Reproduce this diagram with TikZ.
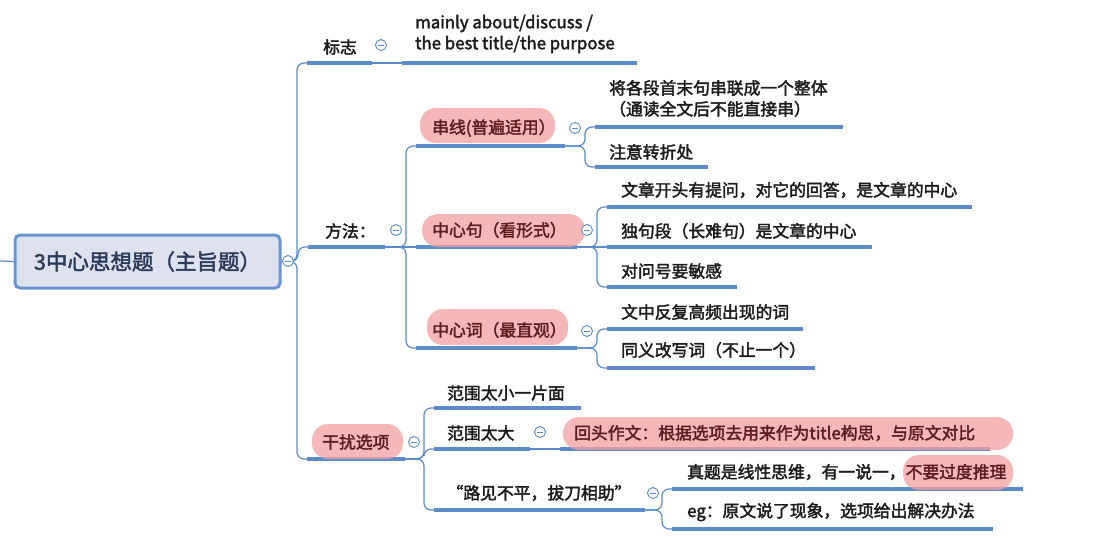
\documentclass[tikz,border=0pt]{standalone}
\usepackage{fontspec}
\setmainfont{Noto Sans CJK SC}[RawFeature={embolden=2.2}]
\usetikzlibrary{calc}
\definecolor{linec}{RGB}{91,139,201}
\definecolor{pillc}{RGB}{244,160,162}
\definecolor{pilltxt}{RGB}{94,30,30}
\definecolor{txtc}{RGB}{28,28,28}
\definecolor{rootfill}{RGB}{221,226,238}
\definecolor{rootdraw}{RGB}{104,148,208}
\definecolor{roottxt}{RGB}{45,59,91}
\newcommand\ULseg[4]{\coordinate (#1-l) at (#2,#4); \coordinate (#1-r) at (#3,#4);}
\begin{document}
\begin{tikzpicture}[x=1pt,y=-1pt,
 conn/.style={draw=linec, line width=1.2pt, rounded corners=7pt},
 uline/.style={draw=linec, line width=3.3pt},
 pill/.style={fill=pillc, fill opacity=0.75, rounded corners=16pt},
 txt/.style={font=\fontsize{16.8}{21}\selectfont, text=txtc, inner sep=0pt, anchor=west},
 ptxt/.style={txt, text=pilltxt},
 coll/.style={circle, draw=linec, fill=white, line width=0.9pt, minimum size=11pt, inner sep=0pt,
   path picture={\draw[linec, line width=0.9pt] ([xshift=-3pt]path picture bounding box.center) -- ([xshift=3pt]path picture bounding box.center);}},
 rootbox/.style={draw=rootdraw, fill=rootfill, line width=3pt, rounded corners=5pt,
   minimum width=265pt, minimum height=53pt, inner sep=0pt, text=roottxt,
   font=\fontsize{21.5}{25}\selectfont}]
\useasboundingbox (0,0) rectangle (1120,539);
\fill[white] (0,0) rectangle (1120,539);

% underline end points
\ULseg{bz}{307}{372}{63}
\ULseg{main}{402}{637}{63}
\ULseg{ff}{308}{385}{247}
\ULseg{cx}{416}{565}{146}
\ULseg{jg}{595}{843}{127}
\ULseg{zy}{595}{708}{167}
\ULseg{zxj}{416}{577}{247}
\ULseg{wz}{607}{972}{207}
\ULseg{dj}{607}{872}{247}
\ULseg{dw}{607}{737}{287}
\ULseg{zxc}{416}{577}{348}
\ULseg{wf}{607}{803}{329}
\ULseg{ty}{607}{815}{368}
\ULseg{gr}{307}{405}{459}
\ULseg{fx}{434}{581}{408}
\ULseg{fd}{434}{530}{449}
\ULseg{ht}{560}{990}{449}
\ULseg{lj}{434}{645}{510}
\ULseg{zt}{672}{1023}{489}
\ULseg{eg}{672}{993}{529}

% root
\coordinate (in) at (0,261);
\node[rootbox] (root) at (147.5,261.5) {3中心思想题（主旨题）};

% connectors
\draw[conn] (in) -- (root.west);
\foreach \c in {bz,ff,gr} \draw[conn] (root.east) -| ([xshift=-10pt]\c-l) -- (\c-l);
\draw[conn] (bz-r) -- (main-l);
\foreach \c in {cx,zxc} \draw[conn] (ff-r) -| ([xshift=-10pt]\c-l) -- (\c-l);
\draw[conn] (ff-r) -- (zxj-l);
\foreach \c in {jg,zy} \draw[conn] (cx-r) -| ([xshift=-10pt]\c-l) -- (\c-l);
\foreach \c in {wz,dw} \draw[conn] (zxj-r) -| ([xshift=-10pt]\c-l) -- (\c-l);
\draw[conn] (zxj-r) -- (dj-l);
\foreach \c in {wf,ty} \draw[conn] (zxc-r) -| ([xshift=-10pt]\c-l) -- (\c-l);
\foreach \c in {fx,fd,lj} \draw[conn] (gr-r) -| ([xshift=-10pt]\c-l) -- (\c-l);
\draw[conn] (fd-r) -- (ht-l);
\foreach \c in {zt,eg} \draw[conn] (lj-r) -| ([xshift=-10pt]\c-l) -- (\c-l);

% underlines
\foreach \n in {bz,main,ff,cx,jg,zy,zxj,wz,dj,dw,zxc,wf,ty,gr,fx,fd,ht,lj,zt,eg}
  \draw[uline] (\n-l) -- (\n-r);

% pills
\fill[pill] (420,108) rectangle (555,143);
\fill[pill] (422,214) rectangle (585,247);
\fill[pill] (427,309) rectangle (568,345);
\fill[pill] (312,424) rectangle (403,459);
\fill[pill] (563,417) rectangle (1013,450);
\fill[pill] (903,455) rectangle (1013,490);

% texts
\node[txt] (t-bz) at (323,47) {标志};
\node[txt, align=left] (t-main) at (415,34) {mainly about/discuss /\\the best title/the purpose};
\node[txt] (t-ff) at (325,231) {方法：};
\node[ptxt] (t-cx) at (432,128) {串线(普遍适用）};
\node[txt, align=left] (t-jg) at (609,98.5) {将各段首末句串联成一个整体\\（通读全文后不能直接串）};
\node[txt] (t-zy) at (609,152) {注意转折处};
\node[ptxt] (t-zxj) at (432,230) {中心句（看形式）};
\node[txt] (t-wz) at (621,190) {文章开头有提问，对它的回答，是文章的中心};
\node[txt] (t-dj) at (621,231) {独句段（长难句）是文章的中心};
\node[txt] (t-dw) at (621,271) {对问号要敏感};
\node[ptxt] (t-zxc) at (432,330) {中心词（最直观）};
\node[txt] (t-wf) at (621,312) {文中反复高频出现的词};
\node[txt] (t-ty) at (621,350) {同义改写词（不止一个）};
\node[ptxt] (t-gr) at (322,442) {干扰选项};
\node[txt] (t-fx) at (447,393) {范围太小一片面};
\node[txt] (t-fd) at (447,433) {范围太大};
\node[ptxt] (t-ht) at (574,433) {回头作文：根据选项去用来作为title构思，与原文对比};
\node[txt, anchor=center] (t-lj) at (539,493) {“路见不平，拔刀相助”};
\node[txt] (t-zt) at (687,472) {真题是线性思维，有一说一，{\color{pilltxt}不要过度推理}};
\node[txt] (t-eg) at (687,512) {eg：原文说了现象，选项给出解决办法};

% collapse markers
\node[coll] (c-root) at (288,261) {};
\node[coll] (c-bz) at (381,45) {};
\node[coll] (c-ff) at (396,230) {};
\node[coll] (c-cx) at (575,128) {};
\node[coll] (c-zxj) at (587,230) {};
\node[coll] (c-zxc) at (587,331) {};
\node[coll] (c-gr) at (414,442) {};
\node[coll] (c-fd) at (540,432) {};
\node[coll] (c-lj) at (653,493) {};
\end{tikzpicture}
\end{document}
